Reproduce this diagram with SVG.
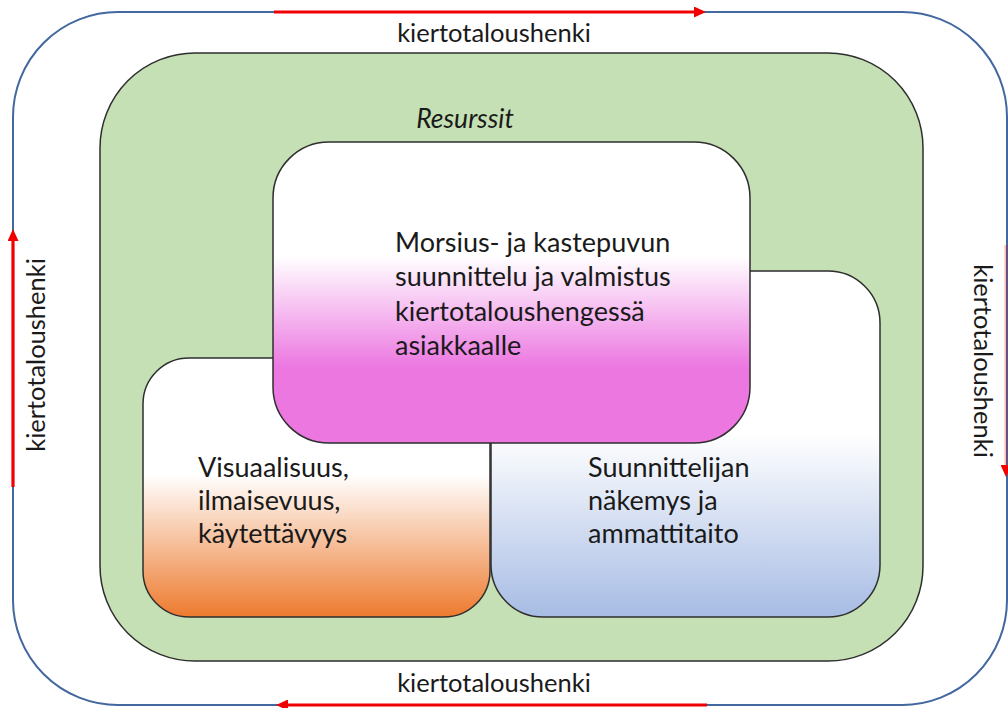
<svg xmlns="http://www.w3.org/2000/svg" width="1008" height="708" viewBox="0 0 1008 708">
<style>
.t{font-family:Lato,"Liberation Sans",sans-serif;fill:#1a1a1a}
.side{font-size:25.5px}
.box{font-size:27px}
.frame{stroke:#2e2e2e;stroke-width:1.5}
.flow{stroke:#f00000;stroke-width:3.2;fill:none}
</style>
<defs>
<linearGradient id="gPink" x1="0" y1="0" x2="0" y2="1">
<stop offset="0" stop-color="#ffffff"/>
<stop offset="0.38" stop-color="#ffffff"/>
<stop offset="0.75" stop-color="#ec77e1"/>
<stop offset="1" stop-color="#ec77e1"/>
</linearGradient>
<linearGradient id="gOrange" x1="0" y1="0" x2="0" y2="1">
<stop offset="0" stop-color="#ffffff"/>
<stop offset="0.45" stop-color="#ffffff"/>
<stop offset="1" stop-color="#ed7a2e"/>
</linearGradient>
<linearGradient id="gBlue" x1="0" y1="0" x2="0" y2="1">
<stop offset="0" stop-color="#ffffff"/>
<stop offset="0.47" stop-color="#ffffff"/>
<stop offset="1" stop-color="#a7bce4"/>
</linearGradient>
<marker id="ah" markerUnits="userSpaceOnUse" markerWidth="12" markerHeight="11" refX="1" refY="5.5" orient="auto">
<path d="M0,0 L12,5.5 L0,11 z" fill="#f00000"/>
</marker>
</defs>
<g id="outer">
<rect x="13" y="12" width="994" height="693" rx="105" ry="105" fill="#ffffff" stroke="#43679f" stroke-width="2"/>
</g>
<g id="resurssit">
<rect x="100" y="53" width="823" height="608" rx="95" ry="95" fill="#c5e0b4" class="frame"/>
<text class="t" x="465" y="128" font-size="26.5" font-style="italic" text-anchor="middle">Resurssit</text>
</g>
<g id="suunnittelija">
<rect x="491" y="271" width="389" height="346" rx="52" ry="52" fill="url(#gBlue)" class="frame"/>
<text class="t box" x="588" y="477">Suunnittelijan</text>
<text class="t box" x="588" y="510">näkemys ja</text>
<text class="t box" x="588" y="543">ammattitaito</text>
</g>
<g id="visuaalisuus">
<rect x="143" y="358" width="347" height="259" rx="46" ry="46" fill="url(#gOrange)" class="frame"/>
<text class="t box" x="198" y="477">Visuaalisuus,</text>
<text class="t box" x="198" y="510">ilmaisevuus,</text>
<text class="t box" x="198" y="543">käytettävyys</text>
</g>
<g id="morsiuspuku">
<rect x="273" y="142" width="477" height="301" rx="56" ry="56" fill="url(#gPink)" class="frame"/>
<text class="t box" x="395" y="252">Morsius- ja kastepuvun</text>
<text class="t box" x="395" y="286">suunnittelu ja valmistus</text>
<text class="t box" x="395" y="321">kiertotaloushengessä</text>
<text class="t box" x="395" y="355">asiakkaalle</text>
</g>
<g id="connectors">
<line class="flow" x1="274" y1="12" x2="695" y2="12" marker-end="url(#ah)"/>
<line class="flow" x1="707" y1="705" x2="287" y2="705" marker-end="url(#ah)"/>
<line class="flow" x1="13" y1="487" x2="13" y2="240" marker-end="url(#ah)"/>
<line class="flow" x1="1006" y1="245" x2="1006" y2="466" marker-end="url(#ah)" stroke-opacity="0.25"/>
</g>
<g id="labels">
<text class="t side" x="494" y="42" text-anchor="middle">kiertotaloushenki</text>
<text class="t side" x="494" y="692" text-anchor="middle">kiertotaloushenki</text>
<text class="t side" transform="translate(45,355) rotate(-90)" text-anchor="middle">kiertotaloushenki</text>
<text class="t side" transform="translate(974,361) rotate(90)" text-anchor="middle">kiertotaloushenki</text>
</g>
</svg>
